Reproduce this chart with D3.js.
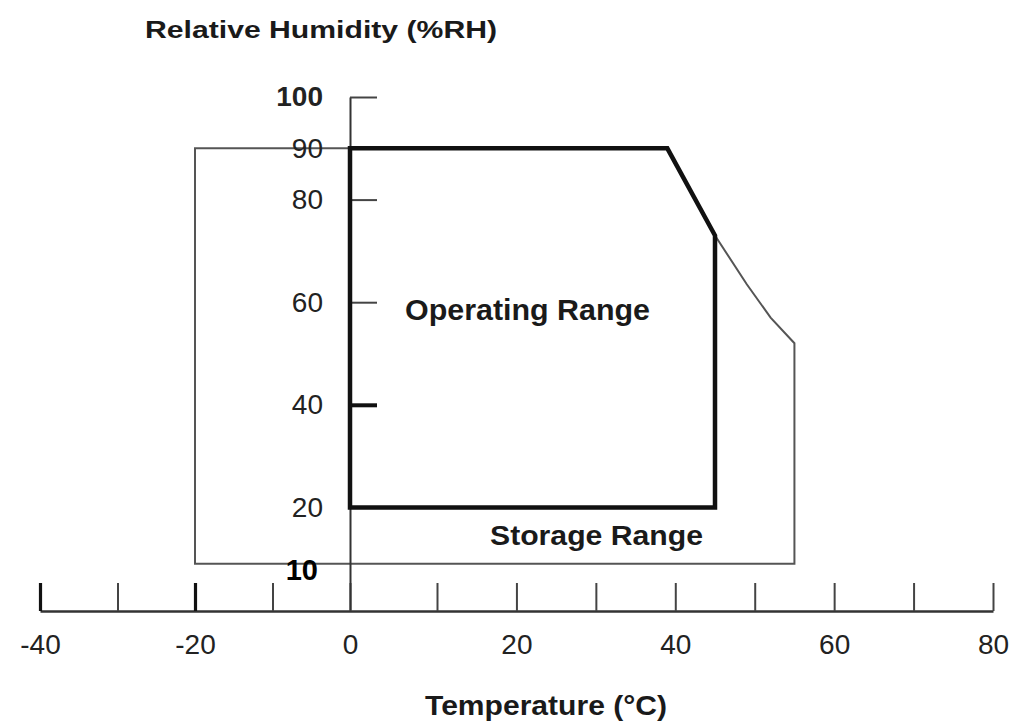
<!DOCTYPE html>
<html>
<head>
<meta charset="utf-8">
<script src="https://cdn.jsdelivr.net/npm/d3@7"></script>
<style>
  html, body { margin: 0; padding: 0; background: #fff; }
  svg { display: block; }
  text { font-family: "Liberation Sans", Arial, sans-serif; }
</style>
</head>
<body>
<script>
// ---- data ----
const xTickValues = [-40, -30, -20, -10, 0, 10, 20, 30, 40, 50, 60, 70, 80];
const xLabelValues = [-40, -20, 0, 20, 40, 60, 80];
const yTickValues = [100, 90, 80, 60, 40, 20];
const yThickTicks = [40];
const xThickTicks = [-40, -20];
// operating range (temperature °C, humidity %RH)
const operatingTemp = [0, 39, 45, 45, 0];
const operatingHum  = [90, 90, 73, 20, 20];
// storage range outline
const storageTemp = [-20, 39, 45, 49, 52, 55, 55, -20];
const storageHum  = [90, 90, 73, 63.5, 57, 52, 9, 9];
const storageLowLabel = "10";
const xTitle = "Temperature (°C)";
const yTitle = "Relative Humidity (%RH)";
const operatingLabel = "Operating Range";
const storageLabel = "Storage Range";

// ---- layout ----
const W = 1015, H = 727;
const svg = d3.select("body").append("svg").attr("width", W).attr("height", H)
  .style("background", "#fff");

const x = d3.scaleLinear().domain([-40, 0, 10, 80]).range([40, 350, 437, 993]);
const y = d3.scaleLinear().domain([0, 100]).range([610, 97]);
const axisY = 611;

// storage outline (thin)
const storagePts = storageTemp.map((t, i) => [x(t), y(storageHum[i])]);
svg.append("path")
  .attr("d", d3.line()(storagePts) + "Z")
  .attr("fill", "none").attr("stroke", "#555").attr("stroke-width", 2)
  .attr("stroke-linejoin", "miter");

// X axis
const xAxis = d3.axisBottom(x)
  .tickValues(xTickValues)
  .tickSizeInner(-28).tickSizeOuter(0).tickPadding(23)
  .tickFormat(d => xLabelValues.includes(d) ? d3.format("d")(d) : "");
const gx = svg.append("g").attr("transform", `translate(0,${axisY})`).call(xAxis);
gx.select(".domain").attr("stroke", "#333").attr("stroke-width", 2.5);
gx.selectAll(".tick line")
  .attr("stroke", d => xThickTicks.includes(d) ? "#111" : "#444")
  .attr("stroke-width", d => xThickTicks.includes(d) ? 3.2 : 2);
gx.selectAll(".tick text")
  .attr("font-size", 28).attr("fill", "#222")
  .attr("font-family", "Liberation Sans, Arial, sans-serif")
  .text(d => xLabelValues.includes(d) ? String(d) : "");

// Y axis
const yAxis = d3.axisLeft(y)
  .tickValues(yTickValues)
  .tickSizeInner(-27).tickSizeOuter(0).tickPadding(27)
  .tickFormat(d3.format("d"));
const gy = svg.append("g").attr("transform", `translate(${x(0)},0)`).call(yAxis);
gy.select(".domain").attr("stroke", "#333").attr("stroke-width", 2);
gy.selectAll(".tick line")
  .attr("stroke", d => yThickTicks.includes(d) ? "#111" : "#444")
  .attr("stroke-width", d => yThickTicks.includes(d) ? 4 : 2);
gy.selectAll(".tick text")
  .attr("font-size", 28).attr("fill", "#222")
  .attr("font-weight", d => d === 100 ? "bold" : "normal")
  .attr("font-family", "Liberation Sans, Arial, sans-serif");

// operating range (thick)
const opPts = operatingTemp.map((t, i) => [x(t), y(operatingHum[i])]);
svg.append("path")
  .attr("d", d3.line()(opPts) + "Z")
  .attr("fill", "none").attr("stroke", "#111").attr("stroke-width", 4.5)
  .attr("stroke-linejoin", "miter");

// labels
svg.append("text")
  .attr("x", 405).attr("y", 320)
  .attr("font-size", 29).attr("font-weight", "bold").attr("fill", "#1a1a1a")
  .attr("textLength", 245).attr("lengthAdjust", "spacingAndGlyphs")
  .text(operatingLabel);

svg.append("text")
  .attr("x", 490).attr("y", 545)
  .attr("font-size", 27).attr("font-weight", "bold").attr("fill", "#1a1a1a")
  .attr("textLength", 213).attr("lengthAdjust", "spacingAndGlyphs")
  .text(storageLabel);

svg.append("text")
  .attr("x", 318).attr("y", y(storageHum[6])).attr("dy", "0.55em")
  .attr("text-anchor", "end")
  .attr("font-size", 29).attr("font-weight", "bold").attr("fill", "#000")
  .text(storageLowLabel);

svg.append("text")
  .attr("x", 145).attr("y", 38)
  .attr("font-size", 23).attr("font-weight", "bold").attr("fill", "#1a1a1a")
  .attr("textLength", 352).attr("lengthAdjust", "spacingAndGlyphs")
  .text(yTitle);

svg.append("text")
  .attr("x", 425).attr("y", 715)
  .attr("font-size", 27).attr("font-weight", "bold").attr("fill", "#1a1a1a")
  .attr("textLength", 242).attr("lengthAdjust", "spacingAndGlyphs")
  .text(xTitle);
</script>
</body>
</html>
